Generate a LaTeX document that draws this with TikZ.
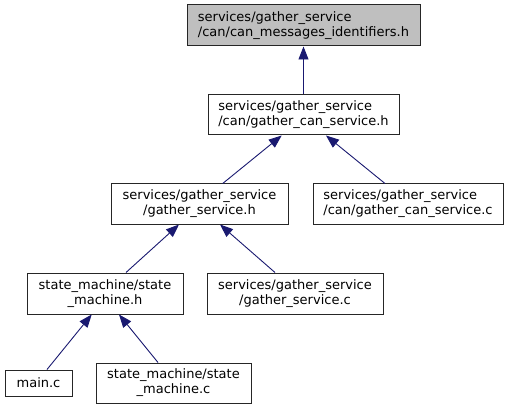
\documentclass[tikz,border=0pt]{standalone}
\usepackage{fontspec}
\setmainfont{DejaVu Sans}
\usetikzlibrary{arrows.meta}
\definecolor{midnightblue}{HTML}{191970}
\definecolor{topfill}{HTML}{BFBFBF}
\definecolor{boxline}{HTML}{262626}
\begin{document}
\begin{tikzpicture}[x=1pt,y=-1pt,
  box/.style={draw=boxline, line width=1pt, fill=white, inner sep=0pt,
    font=\fontsize{13}{15}\selectfont, minimum height=40pt},
  edge/.style={draw=midnightblue, line width=0.9pt,
    -{Triangle[length=13pt,width=10pt]}}]
\useasboundingbox (0,0) rectangle (509,409);
\node[box, fill=topfill, minimum width=233pt, minimum height=41pt, align=left] (n1) at (303.5,25.5)
  {services/gather\_service\\/can/can\_messages\_identifiers.h};
\node[box, minimum width=191pt, align=left] (n2) at (303.5,115)
  {services/gather\_service\\/can/gather\_can\_service.h};
\node[box, minimum width=177pt, align=center] (n3) at (199.5,204)
  {services/gather\_service\\/gather\_service.h};
\node[box, minimum width=190pt, align=left] (n4) at (408,204)
  {services/gather\_service\\/can/gather\_can\_service.c};
\node[box, minimum width=156pt, minimum height=41pt, align=center] (n5) at (105,293.5)
  {state\_machine/state\\\_machine.h};
\node[box, minimum width=176pt, minimum height=41pt, align=center] (n6) at (295,293.5)
  {services/gather\_service\\/gather\_service.c};
\node[box, minimum width=67pt, minimum height=26pt] (n7) at (38.5,383) {main.c};
\node[box, minimum width=155pt, align=center] (n8) at (173.5,383)
  {state\_machine/state\\\_machine.c};

\draw[edge] (n2.north) -- (n1.south);
\draw[edge] ([xshift=23.2pt]n3.north) -- ([xshift=-21.8pt]n2.south);
\draw[edge] ([xshift=-23pt]n4.north) -- ([xshift=22.5pt]n2.south);
\draw[edge] ([xshift=21pt]n5.north) -- ([xshift=-20.5pt]n3.south);
\draw[edge] ([xshift=-20pt]n6.north) -- ([xshift=20.5pt]n3.south);
\draw[edge] ([xshift=8.5pt]n7.north) -- ([xshift=-13.3pt]n5.south);
\draw[edge] ([xshift=-15.5pt]n8.north) -- ([xshift=14pt]n5.south);
\end{tikzpicture}
\end{document}
